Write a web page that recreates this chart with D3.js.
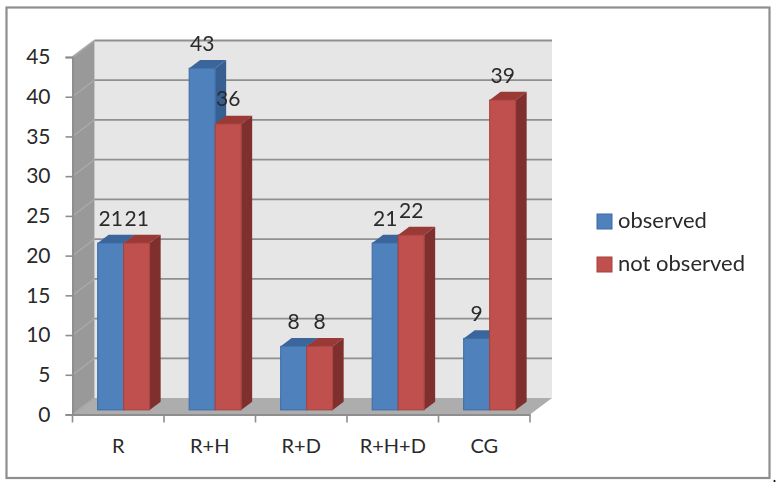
<!DOCTYPE html>
<html><head><meta charset="utf-8">
<script src="https://cdn.jsdelivr.net/npm/d3@7"></script>
<style>html,body{margin:0;padding:0;background:#fff;overflow:hidden}svg{display:block;filter:blur(.35px)}</style>
</head><body><svg id="c" width="782" height="489"></svg>
<script>
const categories = ["R","R+H","R+D","R+H+D","CG"];
const observed = [21,43,8,21,9];
const notObserved = [21,36,8,22,39];
const seriesNames = ["observed","not observed"];
const yTicks = [0,5,10,15,20,25,30,35,40,45];

const font = "Lato, sans-serif", ink = "#2a2a2a";
const svg = d3.select("#c");
const x = d3.scaleBand().domain(categories).range([72.5,530]).paddingInner(0).paddingOuter(0);
const y = d3.scaleLinear().domain([0,45]).range([414.5,57]);
const DX = 22, DY = -16.5;
const sub = d3.scaleBand().domain(seriesNames).range([19, 19+52]);
const poly = pts => pts.map(p=>p.join(",")).join(" ");
const p3 = (px,py,z) => [px+DX*z, py+DY*z];

// frame
svg.append("rect").attr("x",6.5).attr("y",7.5).attr("width",763).attr("height",470.5)
  .attr("fill","#fff").attr("stroke","#8e8e8e").attr("stroke-width",2.2);

// walls
const x0 = x.range()[0], x1 = x.range()[1], yb = y(0), yt = y(45);
svg.append("polygon").attr("points",poly([p3(x0,yt,1),p3(x1,yt,1),p3(x1,yb,1),p3(x0,yb,1)])).attr("fill","#e6e6e6");
svg.append("polygon").attr("points",poly([p3(x0,yt,0),p3(x0,yt,1),p3(x0,yb,1),p3(x0,yb,0)])).attr("fill","#999999");
svg.append("polygon").attr("points",poly([p3(x0,yb,0),p3(x0,yb,1),p3(x1,yb,1),p3(x1,yb,0)])).attr("fill","#adadad");

// gridlines
yTicks.forEach(t=>{
  const a=p3(x0,y(t),0), b=p3(x0,y(t),1), c=p3(x1,y(t),1);
  svg.append("line").attr("x1",a[0]).attr("y1",a[1]).attr("x2",b[0]).attr("y2",b[1]).attr("stroke","#a8a8a8").attr("stroke-width",1.6);
  if(t>0) svg.append("line").attr("x1",b[0]).attr("y1",b[1]).attr("x2",c[0]).attr("y2",c[1]).attr("stroke","#8f8f8f").attr("stroke-width",1.8);
});

// axes
const axisY = d3.axisLeft(y).tickValues(yTicks).tickSize(7).tickPadding(15);
const gy = svg.append("g").attr("transform",`translate(${x0},0)`).call(axisY);
const axisX = d3.axisBottom(x).tickSize(0).tickPadding(0);
const gx = svg.append("g").attr("transform",`translate(0,${yb})`).call(axisX);
[gy,gx].forEach(g=>{g.selectAll("path").attr("stroke","#8e8e8e").attr("stroke-width",2);
  g.selectAll("line").attr("stroke","#8e8e8e").attr("stroke-width",1.6);
  g.selectAll("text").attr("font-family",font).attr("fill",ink);});
gy.selectAll("text").attr("font-size",21);
gx.selectAll("text").attr("font-size",20).attr("dy",0).attr("y",38.5);
gx.selectAll(null).data(x.domain().map(c=>x(c)).concat([x1])).enter().append("line")
  .attr("x1",d=>d).attr("x2",d=>d).attr("y1",0).attr("y2",8).attr("stroke","#8e8e8e").attr("stroke-width",1.6);

// bars
const zf=.28, zb=.78;
const colors = {front:["#4f81bd","#c0504d"], edge:["#3a6ba5","#a8403d"], top:["#3b669c","#9a3a37"], side:["#375f92","#7f2f2d"]};
const rows = categories.map((c,i)=>({c,vals:[observed[i],notObserved[i]]}));
const labels=[];
rows.forEach(r=>{
  r.vals.forEach((v,k)=>{
    const name=seriesNames[k], l=x(r.c)+sub(name), rr=l+sub.bandwidth(), t=y(v), b=y(0);
    svg.append("polygon").attr("points",poly([p3(l,t,zf),p3(l,t,zb),p3(rr,t,zb),p3(rr,t,zf)])).attr("fill",colors.top[k]);
    svg.append("polygon").attr("points",poly([p3(rr,t,zf),p3(rr,t,zb),p3(rr,b,zb),p3(rr,b,zf)])).attr("fill",colors.side[k]);
    const f0=p3(l,t,zf), f1=p3(rr,b,zf);
    svg.append("rect").attr("x",f0[0]).attr("y",f0[1]).attr("width",f1[0]-f0[0]).attr("height",f1[1]-f0[1])
      .attr("fill",colors.front[k]).attr("stroke",colors.edge[k]).attr("stroke-width",1);
    labels.push({x:(f0[0]+f1[0])/2,y:f0[1]-17.5,v});
  });
});
svg.selectAll(".lab").data(labels).enter().append("text").attr("class","lab")
  .attr("x",d=>d.x).attr("y",d=>d.y).attr("text-anchor","middle")
  .attr("font-family",font).attr("font-size",21).attr("fill",ink).text(d=>d.v);

// legend
seriesNames.forEach((n,i)=>{
  const ly=214+i*43;
  svg.append("rect").attr("x",597).attr("y",ly).attr("width",15).attr("height",15)
    .attr("fill",colors.front[i]).attr("stroke",colors.edge[i]).attr("stroke-width",1);
  svg.append("text").attr("x",618).attr("y",ly+14).attr("font-family",font).attr("font-size",22).attr("fill",ink).text(n);
});
svg.append("text").attr("x",772.5).attr("y",482).attr("font-family",font).attr("font-size",17).attr("fill","#111").text(".");
</script></body></html>
